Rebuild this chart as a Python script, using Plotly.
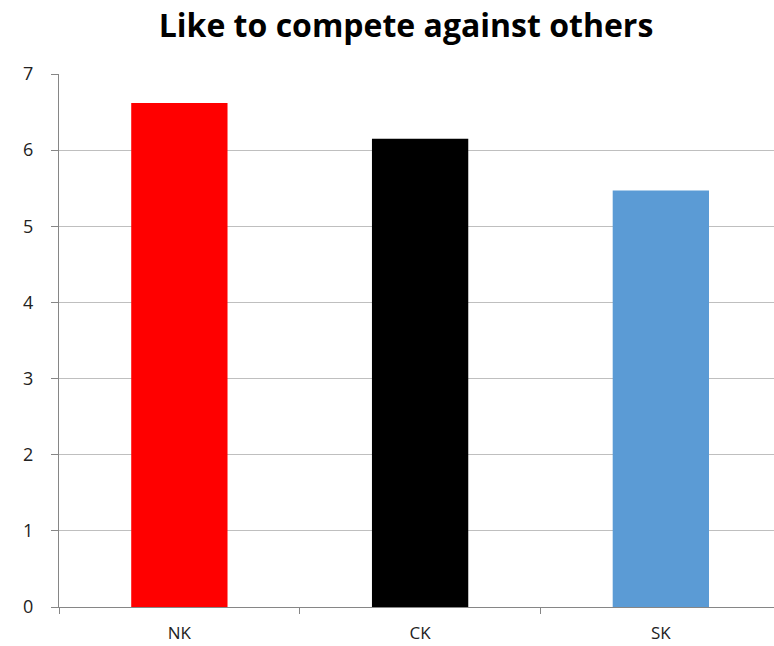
import plotly.graph_objects as go

categories = ["NK", "CK", "SK"]
values = [6.62, 6.15, 5.47]
colors = ["#FF0000", "#000000", "#5B9BD5"]
title_text = "Like to compete against others"

fig = go.Figure(go.Bar(x=categories, y=values, marker=dict(color=colors, line=dict(width=0)), width=0.4))

fig.update_layout(
    width=774, height=646,
    margin=dict(l=59, r=0, t=74, b=39),
    paper_bgcolor="white", plot_bgcolor="white",
    showlegend=False,
    title=dict(text="<b>" + title_text + "</b>", x=406/774, xref="container", xanchor="center",
               y=1 - 26/646, yref="container", yanchor="middle",
               font=dict(family="Open Sans, sans-serif", size=32, color="black")),
    font=dict(family="Open Sans, sans-serif", size=16, color="#222222"),
)
fig.update_xaxes(
    range=[-0.5, 2.47], showgrid=False, showline=True, linecolor="#868686", linewidth=1,
    ticks="outside", tickson="boundaries", ticklen=6, tickcolor="#868686",
    ticklabelstandoff=11, fixedrange=True, tickfont=dict(size=17),
)
fig.update_yaxes(
    range=[0, 7], dtick=1, showgrid=True, gridcolor="#BFBFBF", gridwidth=1,
    showline=True, linecolor="#868686", linewidth=1, zeroline=False,
    ticks="outside", ticklen=7, tickcolor="#868686", ticklabelstandoff=14,
    tickfont=dict(size=18),
)

fig.write_html("out.html")
